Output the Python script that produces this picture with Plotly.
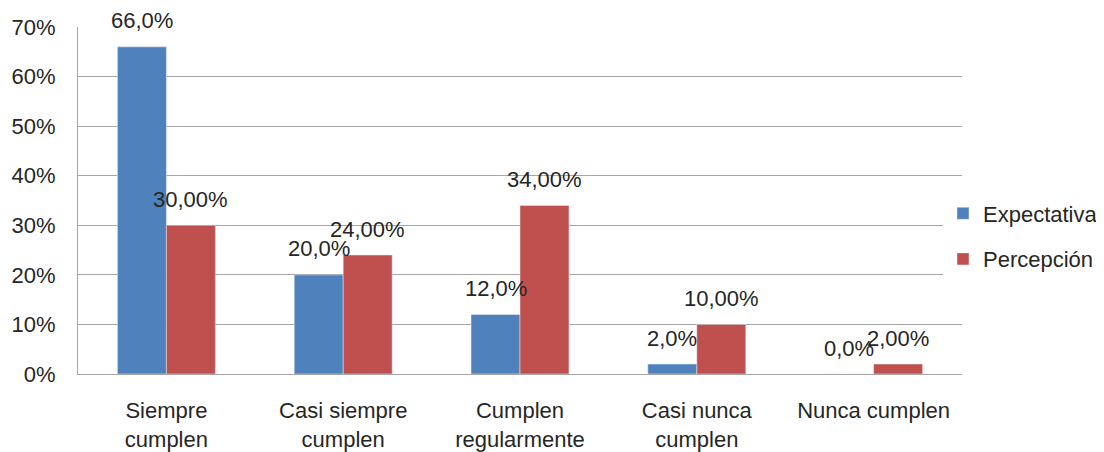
import plotly.graph_objects as go

categories = ["Siempre<br>cumplen", "Casi siempre<br>cumplen", "Cumplen<br>regularmente",
              "Casi nunca<br>cumplen", "Nunca cumplen"]
expectativa = [66.0, 20.0, 12.0, 2.0, 0.0]
percepcion = [30.0, 24.0, 34.0, 10.0, 2.0]
exp_labels = ["66,0%", "20,0%", "12,0%", "2,0%", "0,0%"]
per_labels = ["30,00%", "24,00%", "34,00%", "10,00%", "2,00%"]
y_ticks = [0, 10, 20, 30, 40, 50, 60, 70]
y_tick_labels = ["0%", "10%", "20%", "30%", "40%", "50%", "60%", "70%"]

FONT = "Liberation Sans"
TXT = "#262626"
FS = 22
# page has an 8px body margin; compensate
W, H = 1096, 444
L, R, T, B = 70, 142, 19, 78
plot_w = W - L - R
plot_h = H - T - B
bargap = 0.446
bar_px = plot_w / len(categories) * (1 - bargap) / 2

fig = go.Figure()
fig.add_bar(x=categories, y=expectativa, name="Expectativa", marker_color="#4F81BD",
            legendgroup="e")
fig.add_bar(x=categories, y=percepcion, name="Percepción", marker_color="#C0504D",
            legendgroup="p")

annotations = []
for c, v, t in zip(categories, expectativa, exp_labels):
    annotations.append(dict(x=c, y=v, text=t, showarrow=False, xref="x", yref="y",
                            xanchor="center", yanchor="middle",
                            xshift=-bar_px / 2, yshift=26,
                            font=dict(size=FS, color=TXT, family=FONT)))
for c, v, t in zip(categories, percepcion, per_labels):
    annotations.append(dict(x=c, y=v, text=t, showarrow=False, xref="x", yref="y",
                            xanchor="center", yanchor="middle",
                            xshift=bar_px / 2, yshift=26,
                            font=dict(size=FS, color=TXT, family=FONT)))

fig.update_layout(
    width=W, height=H,
    margin=dict(l=L, r=R, t=T, b=B, autoexpand=False),
    paper_bgcolor="white", plot_bgcolor="white",
    barmode="group", bargap=bargap, bargroupgap=0,
    font=dict(family=FONT, size=FS, color=TXT),
    legend=dict(x=(935 - L) / plot_w, y=0.5 - 36 / plot_h, xanchor="left", yanchor="middle",
                font=dict(size=FS, color=TXT, family=FONT),
                itemwidth=30, tracegroupgap=14),
    showlegend=True,
    annotations=annotations,
)
fig.update_xaxes(showline=True, linecolor="#A6A6A6", linewidth=1, automargin=False,
                 tickfont=dict(size=FS, color=TXT, family=FONT),
                 ticklabelstandoff=17)
fig.update_yaxes(range=[0, 70], tickvals=y_ticks, ticktext=y_tick_labels,
                 showgrid=True, gridcolor="#A6A6A6", gridwidth=1,
                 showline=True, linecolor="#A6A6A6", linewidth=1,
                 zeroline=False, automargin=False,
                 tickfont=dict(size=FS, color=TXT, family=FONT),
                 ticklabelstandoff=17)

fig.write_html("out.html")
